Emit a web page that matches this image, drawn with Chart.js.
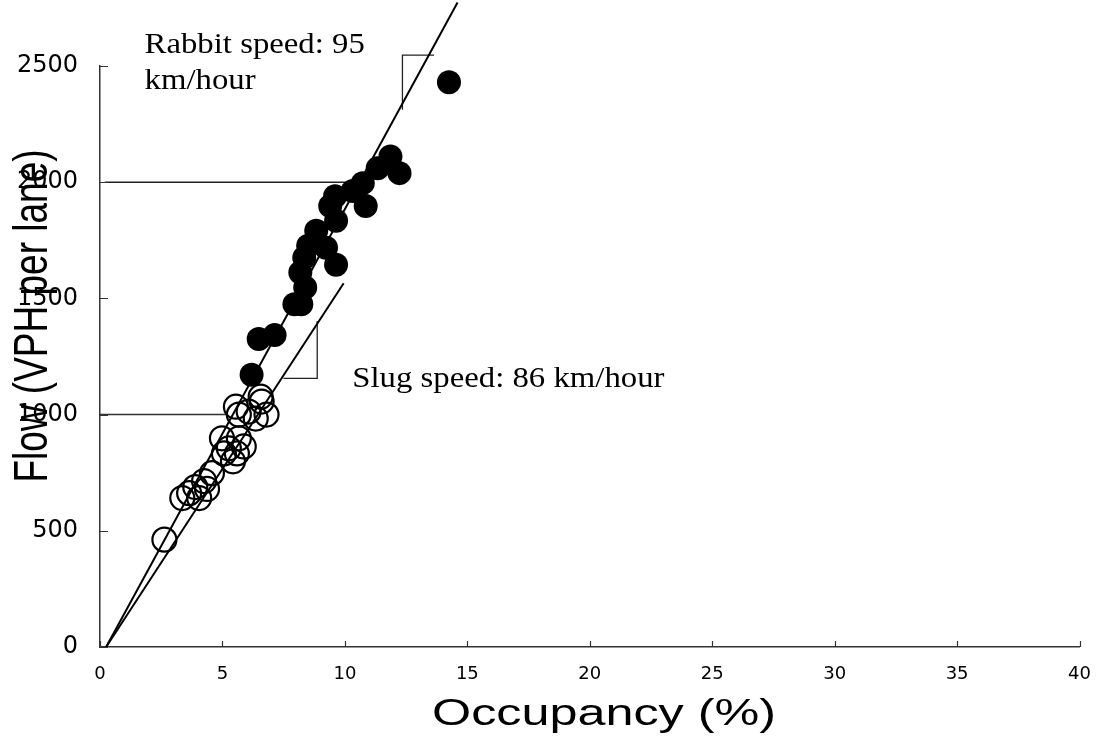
<!DOCTYPE html>
<html>
<head>
<meta charset="utf-8">
<title>Flow vs Occupancy</title>
<script src="https://cdn.jsdelivr.net/npm/chart.js@4.4.1/dist/chart.umd.min.js"></script>
<style>
  body { margin: 0; background: #fff; }
  #wrap { width: 1108px; height: 738px; }
</style>
</head>
<body>
<div id="wrap"><canvas id="myChart" width="1108" height="738"></canvas></div>
<script>
// rabbit (filled) points: occupancy % / flow VPH per lane
var rabbitOcc  = [14.25, 11.86, 11.34, 12.23, 10.73, 10.32, 10.85, 9.6, 9.4, 9.64, 8.83, 8.5, 9.23, 8.34, 9.64, 8.18, 8.38, 7.94, 8.22, 7.13, 6.48, 6.19];
var rabbitFlow = [2430, 2111, 2060, 2039, 1996, 1962, 1898, 1940, 1898, 1834, 1791, 1727, 1718, 1675, 1645, 1611, 1547, 1475, 1475, 1342, 1325, 1171];

// slug (open) points
var slugOcc  = [5.55, 6.6, 5.67, 6.36, 6.8, 6.07, 6.56, 4.98, 5.67, 5.26, 5.87, 5.06, 5.59, 5.43, 4.57, 4.25, 4.37, 3.89, 3.64, 3.36, 4.05, 2.63];
var slugFlow = [1034, 1056, 1000, 983, 1000, 1013, 1077, 898, 898, 855, 863, 833, 833, 799, 748, 714, 680, 688, 662, 641, 641, 462];

// fitted speed lines (two end points each)
var rabbitLineOcc  = [0.25, 14.6];
var rabbitLineFlow = [0, 2773];
var slugLineOcc    = [0.25, 9.95];
var slugLineFlow   = [0, 1565];

// guide lines and slope brackets
var rabbitGuideOcc    = [0.2, 10.04];
var rabbitGuideFlow   = [2000, 2000];
var slugGuideOcc      = [0, 5.18];
var slugGuideFlow     = [1000, 1000];
var rabbitBracketOcc  = [13.64, 12.35, 12.35];
var rabbitBracketFlow = [2547, 2547, 2312];
var slugBracketOcc    = [7.49, 8.87, 8.87];
var slugBracketFlow   = [1156, 1156, 1403];

var xTicks = [0, 5, 10, 15, 20, 25, 30, 35, 40];
var yTicks = [0, 500, 1000, 1500, 2000, 2500];

var xTitle = 'Occupancy (%)';
var yTitle = 'Flow (VPH per lane)';
var rabbitLabel = ['Rabbit speed: 95', 'km/hour'];
var slugLabel = 'Slug speed: 86 km/hour';

function toPoints(xs, ys) {
    var pts = [];
    for (var i = 0; i < xs.length; i++) {
        pts.push({x: xs[i], y: ys[i]});
    }
    return pts;
}

function lineSet(xs, ys, width, color) {
    return {
        type: 'line',
        data: toPoints(xs, ys),
        borderColor: color,
        borderWidth: width,
        pointRadius: 0,
        fill: false,
        tension: 0,
        clip: false,
        order: 2
    };
}

// text with a horizontal stretch, like the original picture
function stretchText(ctx, str, x, y, font, sx, rotate) {
    ctx.save();
    ctx.translate(x, y);
    ctx.scale(sx, 1);
    if (rotate) ctx.rotate(-Math.PI / 2);
    ctx.font = font;
    ctx.fillStyle = '#000';
    ctx.textAlign = rotate ? 'center' : 'left';
    ctx.textBaseline = rotate ? 'middle' : 'alphabetic';
    ctx.fillText(str, 0, 0);
    ctx.restore();
}

var extras = {
    id: 'extras',
    afterDraw: function (chart) {
        var ctx = chart.ctx;
        var xs = chart.scales.x, ys = chart.scales.y;
        var area = chart.chartArea;

        // inside tick marks
        ctx.save();
        ctx.strokeStyle = '#333';
        ctx.lineWidth = 1.2;
        ctx.beginPath();
        xTicks.forEach(function (v) {
            var px = Math.round(xs.getPixelForValue(v)) + 0.5;
            ctx.moveTo(px, area.bottom);
            ctx.lineTo(px, area.bottom - 6);
        });
        yTicks.forEach(function (v) {
            var py = Math.round(ys.getPixelForValue(v)) + 0.5;
            ctx.moveTo(area.left, py);
            ctx.lineTo(area.left + 8, py);
        });
        ctx.stroke();
        ctx.restore();

        // annotation texts, anchored in data units
        var serif = '29px "Liberation Serif", "Times New Roman", serif';
        stretchText(ctx, rabbitLabel[0], xs.getPixelForValue(1.82), ys.getPixelForValue(2556), serif, 1.13, false);
        stretchText(ctx, rabbitLabel[1], xs.getPixelForValue(1.82), ys.getPixelForValue(2400), serif, 1.13, false);
        stretchText(ctx, slugLabel, xs.getPixelForValue(10.3), ys.getPixelForValue(1118), serif, 1.13, false);

        // axis titles
        var sans = '37px "Liberation Sans", Arial, sans-serif';
        ctx.save();
        ctx.font = sans;
        var w = ctx.measureText(xTitle).width * 1.36;
        ctx.restore();
        stretchText(ctx, xTitle, 604 - w / 2, 725, sans, 1.36, false);
        stretchText(ctx, yTitle, 34, 316, sans, 1.3, true);
    }
};

var chartdata = {
    datasets: [
        {
            type: 'scatter',
            label: 'Rabbit',
            data: toPoints(rabbitOcc, rabbitFlow),
            backgroundColor: '#000',
            borderColor: '#000',
            pointRadius: 12,
            pointHoverRadius: 12,
            borderWidth: 0,
            clip: false,
            order: 1
        },
        {
            type: 'scatter',
            label: 'Slug',
            data: toPoints(slugOcc, slugFlow),
            backgroundColor: 'rgba(0,0,0,0)',
            borderColor: '#000',
            pointRadius: 12,
            pointHoverRadius: 12,
            borderWidth: 2.2,
            clip: false,
            order: 1
        },
        lineSet(rabbitLineOcc, rabbitLineFlow, 2, '#000'),
        lineSet(slugLineOcc, slugLineFlow, 2, '#000'),
        lineSet(rabbitGuideOcc, rabbitGuideFlow, 1.5, '#222'),
        lineSet(slugGuideOcc, slugGuideFlow, 1.5, '#333'),
        lineSet(rabbitBracketOcc, rabbitBracketFlow, 1.3, '#222'),
        lineSet(slugBracketOcc, slugBracketFlow, 1.3, '#222')
    ]
};

var graphTarget = document.getElementById('myChart');

var scatterGraph = new Chart(graphTarget, {
    type: 'scatter',
    data: chartdata,
    plugins: [extras],
    options: {
        responsive: false,
        animation: false,
        layout: { padding: { top: 66, right: 20, left: 0, bottom: 0 } },
        plugins: {
            legend: { display: false },
            tooltip: { enabled: false }
        },
        scales: {
            x: {
                type: 'linear',
                min: 0,
                max: 40,
                afterFit: function (scale) { scale.height = 91; },
                afterBuildTicks: function (scale) {
                    scale.ticks = xTicks.map(function (v) { return {value: v}; });
                },
                grid: { drawOnChartArea: false, drawTicks: false },
                border: { display: true, color: '#333', width: 1.5 },
                ticks: {
                    color: '#000',
                    padding: 17,
                    maxRotation: 0,
                    callback: function (v) { return String(v); },
                    font: { family: '"DejaVu Sans", sans-serif', size: 18 }
                }
            },
            y: {
                type: 'linear',
                min: 0,
                max: 2500,
                afterFit: function (scale) { scale.width = 100; },
                afterBuildTicks: function (scale) {
                    scale.ticks = yTicks.map(function (v) { return {value: v}; });
                },
                grid: { drawOnChartArea: false, drawTicks: false },
                border: { display: true, color: '#333', width: 1.5 },
                ticks: {
                    color: '#000',
                    padding: 22,
                    callback: function (v) { return String(v); },
                    font: { family: '"DejaVu Sans", sans-serif', size: 24 }
                }
            }
        }
    }
});
</script>
</body>
</html>
